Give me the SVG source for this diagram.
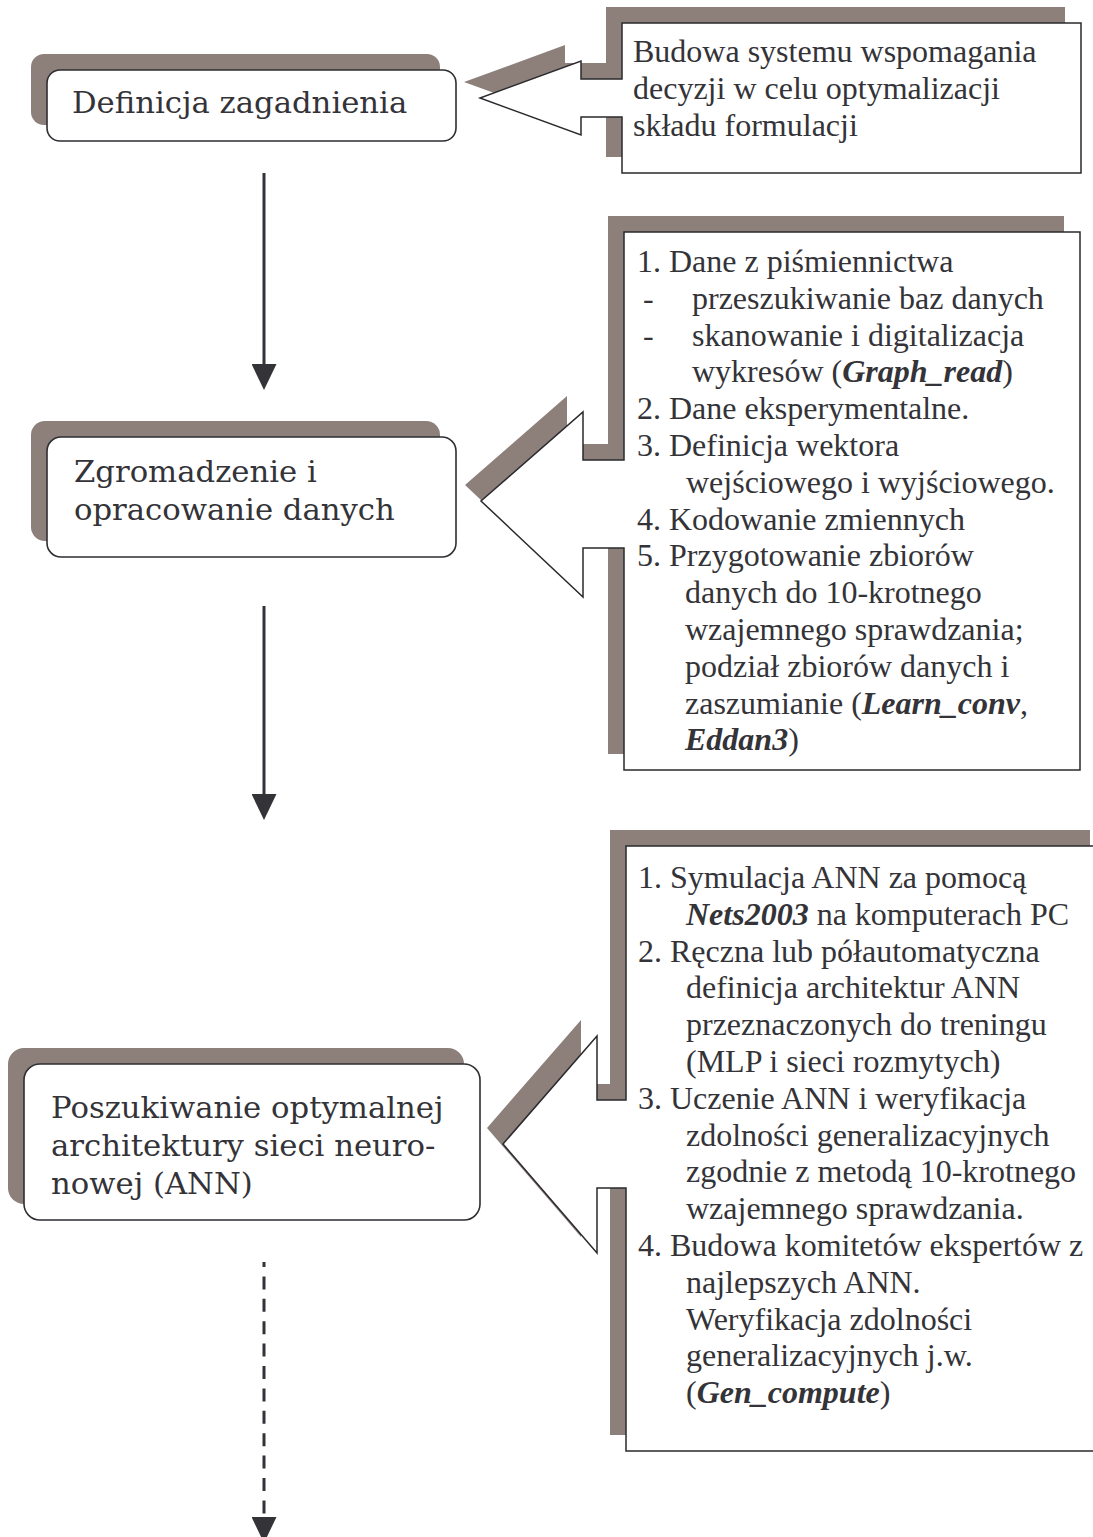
<svg xmlns="http://www.w3.org/2000/svg" xmlns:xlink="http://www.w3.org/1999/xlink" width="1093" height="1537" viewBox="0 0 1093 1537">
  <style>
    .shadow { fill: #8d807b; stroke: none; }
    .box { fill: #ffffff; stroke: #2e2e33; stroke-width: 1.6; }
    .frame { fill: #ffffff; stroke: #2a2a2e; stroke-width: 1.5; stroke-linejoin: miter; }
    .node-text { font-family: "DejaVu Serif", serif; font-size: 30.7px; fill: #333338; }
    .note { font-family: "Liberation Serif", "Times New Roman", serif; font-size: 32px; fill: #333338; }
    .em { font-weight: bold; font-style: italic; }
    .flow { stroke: #333338; stroke-width: 3; fill: none; }
    .dashed { stroke-dasharray: 13 9.4; stroke-dashoffset: 8; }
  </style>
  <defs>
    <marker id="head" markerUnits="userSpaceOnUse" markerWidth="26" markerHeight="25" viewBox="0 0 26 25" refX="0" refY="12.5" orient="auto">
      <path d="M0,0 L26,12.5 L0,25 Z" fill="#333338"/>
    </marker>
    <!-- callout outlines: text frame with a pointer toward the step on the left -->
    <path id="callout1" d="M622,23 H1081 V173 H622 V117 H581 V135 L480,98 L581,61 V79 H622 Z"/>
    <path id="callout2" d="M624,232 H1080 V770 H624 V548 H583 V597 L481,501 L583,412 V460 H624 Z"/>
    <path id="callout3" d="M626,846 H1106 V1451 H626 V1188 H597 V1253 L503,1144 L597,1036 V1100 H626 Z"/>
  </defs>

  <!-- flow connectors between steps -->
  <g id="connectors">
    <line class="flow" x1="264" y1="173" x2="264" y2="364" marker-end="url(#head)"/>
    <line class="flow" x1="264" y1="606" x2="264" y2="794" marker-end="url(#head)"/>
    <line class="flow dashed" x1="264" y1="1262" x2="264" y2="1517" marker-end="url(#head)"/>
  </g>

  <!-- step 1 -->
  <g id="step-definicja">
    <rect class="shadow" x="31" y="54" width="409" height="71" rx="13"/>
    <rect class="box" x="47" y="70" width="409" height="71" rx="13"/>
    <text class="node-text" x="72" y="113">Definicja zagadnienia</text>
  </g>

  <g id="note-definicja">
    <use xlink:href="#callout1" class="shadow" transform="translate(-16,-16)"/>
    <use xlink:href="#callout1" class="frame"/>
    <text class="note" x="633" y="62">Budowa systemu wspomagania</text>
    <text class="note" x="633" y="99">decyzji w celu optymalizacji</text>
    <text class="note" x="633" y="136">składu formulacji</text>
  </g>

  <!-- step 2 -->
  <g id="step-dane">
    <rect class="shadow" x="31" y="421" width="409" height="120" rx="14"/>
    <rect class="box" x="47" y="437" width="409" height="120" rx="14"/>
    <text class="node-text" x="74" y="482">Zgromadzenie i</text>
    <text class="node-text" x="74" y="520">opracowanie danych</text>
  </g>

  <g id="note-dane">
    <use xlink:href="#callout2" class="shadow" transform="translate(-16,-16)"/>
    <use xlink:href="#callout2" class="frame"/>
    <g class="note">
      <text x="637" y="272">1. Dane z piśmiennictwa</text>
      <text x="643" y="309">-</text>
      <text x="692" y="309">przeszukiwanie baz danych</text>
      <text x="643" y="346">-</text>
      <text x="692" y="346">skanowanie i digitalizacja</text>
      <text x="692" y="382">wykresów (<tspan class="em">Graph_read</tspan>)</text>
      <text x="637" y="419">2. Dane eksperymentalne.</text>
      <text x="637" y="456">3. Definicja wektora</text>
      <text x="686" y="493">wejściowego i wyjściowego.</text>
      <text x="637" y="530">4. Kodowanie zmiennych</text>
      <text x="637" y="566">5. Przygotowanie zbiorów</text>
      <text x="685" y="603">danych do 10-krotnego</text>
      <text x="685" y="640">wzajemnego sprawdzania;</text>
      <text x="685" y="677">podział zbiorów danych i</text>
      <text x="685" y="714">zaszumianie (<tspan class="em">Learn_conv</tspan>,</text>
      <text x="685" y="750"><tspan class="em">Eddan3</tspan>)</text>
    </g>
  </g>

  <!-- step 3 -->
  <g id="step-ann">
    <rect class="shadow" x="8" y="1048" width="456" height="156" rx="16"/>
    <rect class="box" x="24" y="1064" width="456" height="156" rx="16"/>
    <text class="node-text" x="51" y="1118">Poszukiwanie optymalnej</text>
    <text class="node-text" x="51" y="1156">architektury sieci neuro-</text>
    <text class="node-text" x="51" y="1194">nowej (ANN)</text>
  </g>

  <g id="note-ann">
    <use xlink:href="#callout3" class="shadow" transform="translate(-16,-16)"/>
    <use xlink:href="#callout3" class="frame"/>
    <g class="note">
      <text x="638" y="888">1. Symulacja ANN za pomocą</text>
      <text x="686" y="925"><tspan class="em">Nets2003</tspan> na komputerach PC</text>
      <text x="638" y="962">2. Ręczna lub półautomatyczna</text>
      <text x="686" y="998">definicja architektur ANN</text>
      <text x="686" y="1035">przeznaczonych do treningu</text>
      <text x="686" y="1072">(MLP i sieci rozmytych)</text>
      <text x="638" y="1109">3. Uczenie ANN i weryfikacja</text>
      <text x="686" y="1146">zdolności generalizacyjnych</text>
      <text x="686" y="1182">zgodnie z metodą 10-krotnego</text>
      <text x="686" y="1219">wzajemnego sprawdzania.</text>
      <text x="638" y="1256">4. Budowa komitetów ekspertów z</text>
      <text x="686" y="1293">najlepszych ANN.</text>
      <text x="686" y="1330">Weryfikacja zdolności</text>
      <text x="686" y="1366">generalizacyjnych j.w.</text>
      <text x="686" y="1403">(<tspan class="em">Gen_compute</tspan>)</text>
    </g>
  </g>
</svg>
